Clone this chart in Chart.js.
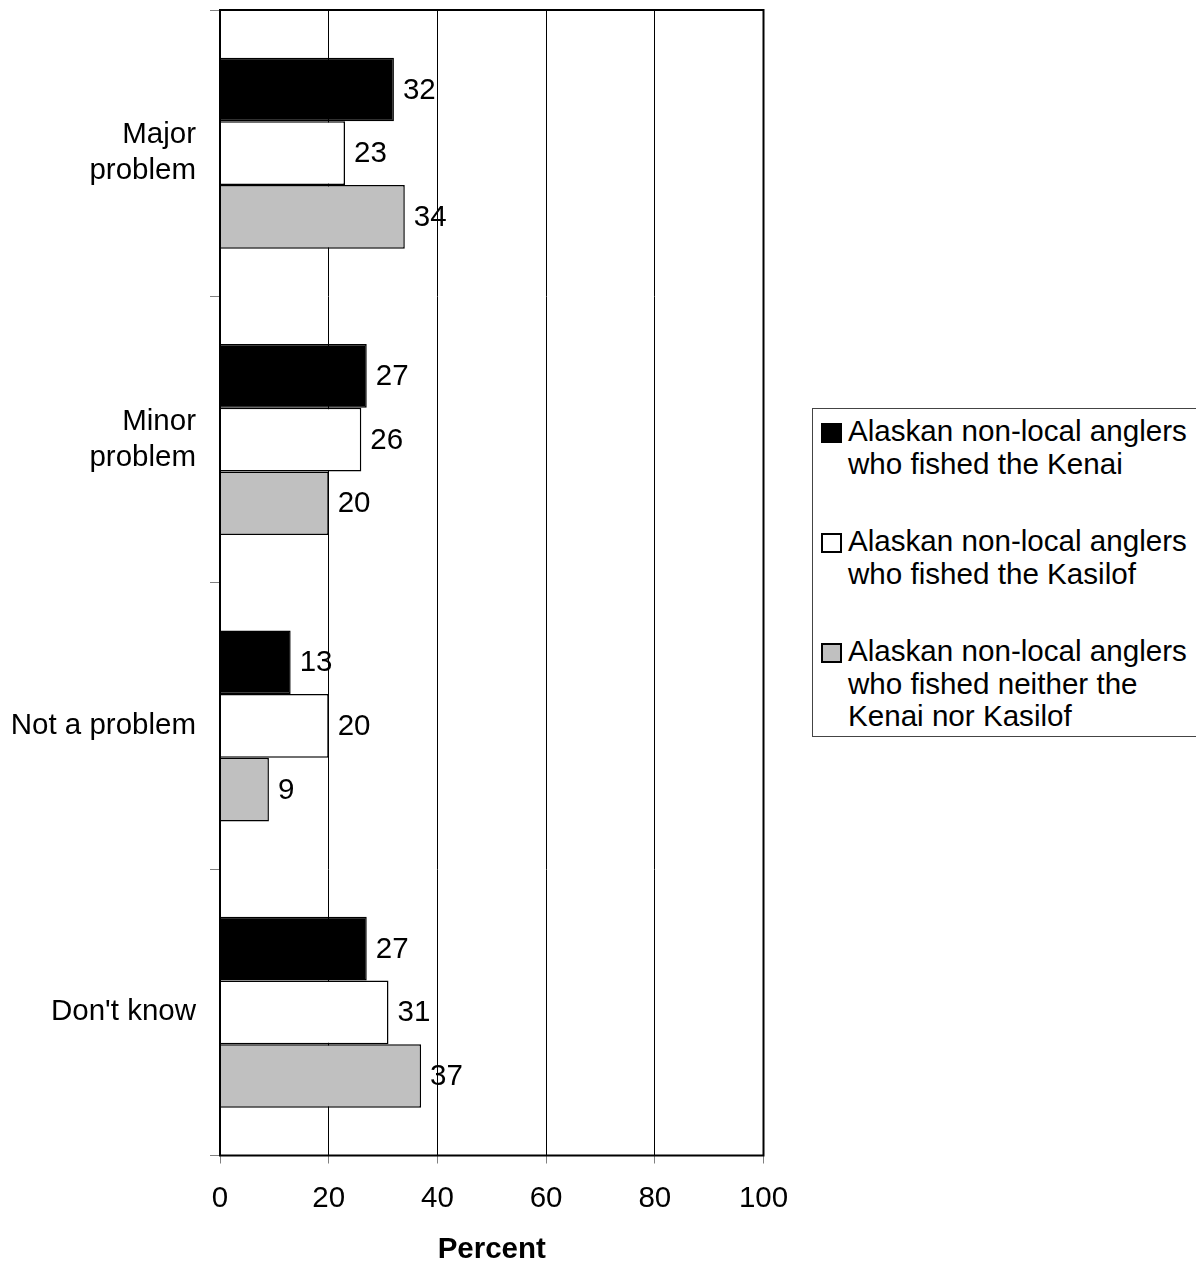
<!DOCTYPE html>
<html>
<head>
<meta charset="utf-8">
<title>Problem rating by angler group</title>
<script src="https://cdn.jsdelivr.net/npm/chart.js@4.4.0/dist/chart.umd.min.js"></script>
<style>
  html, body { margin: 0; padding: 0; background: #fff; overflow: hidden; }
  #wrap { position: relative; width: 1196px; height: 1265px; }
  #legend {
    position: absolute; left: 812px; top: 408px; width: 420px;
    border: 1px solid #444; background: #fff;
    padding: 6px 0 3px 0;
    font-family: "Liberation Sans", Arial, sans-serif; font-size: 29.6px; line-height: 32.5px; color: #000;
  }
  .item { position: relative; padding-left: 35px; margin-bottom: 45px; }
  .item:last-child { margin-bottom: 0; }
  .swatch { position: absolute; left: 8px; top: 8px; width: 17px; height: 16px; border: 2px solid #000; }
</style>
</head>
<body>
<div id="wrap">
  <canvas id="my-chart" width="1196" height="1265"></canvas>
  <div id="legend"></div>
</div>
<script>
'use strict';

//***********data***********
let categories = [['Major', 'problem'], ['Minor', 'problem'], 'Not a problem', 'Don\'t know'];
let kenai = [32, 27, 13, 27];
let kasilof = [23, 26, 20, 31];
let neither = [34, 20, 9, 37];
let seriesNames = [
  ['Alaskan non-local anglers', 'who fished the Kenai'],
  ['Alaskan non-local anglers', 'who fished the Kasilof'],
  ['Alaskan non-local anglers', 'who fished neither the', 'Kenai nor Kasilof']
];
let seriesColors = ['#000000', '#ffffff', '#c0c0c0'];
let xTicks = [0, 20, 40, 60, 80, 100];

let FONT = '"Liberation Sans", Arial, sans-serif';
let FONT_SIZE = 29.5;
let customerChart = document.getElementById('my-chart');

// draws the value at the end of each bar
let valueLabels = {
  id: 'valueLabels',
  afterDatasetsDraw(chart) {
    let ctx = chart.ctx;
    ctx.save();
    ctx.font = FONT_SIZE + 'px ' + FONT;
    ctx.fillStyle = '#000';
    ctx.textAlign = 'left';
    ctx.textBaseline = 'middle';
    chart.data.datasets.forEach((ds, i) => {
      chart.getDatasetMeta(i).data.forEach((bar, j) => {
        ctx.fillText(String(ds.data[j]), bar.x + 9, bar.y + 1);
      });
    });
    ctx.restore();
  }
};

// black frame round the plot area
let plotFrame = {
  id: 'plotFrame',
  afterDraw(chart) {
    let a = chart.chartArea;
    let ctx = chart.ctx;
    ctx.save();
    ctx.strokeStyle = '#000';
    ctx.lineWidth = 2;
    ctx.strokeRect(a.left, a.top, a.right - a.left, a.bottom - a.top);
    ctx.restore();
  }
};

function renderChart() {
  let names = [kenai, kasilof, neither];
  let datasets = names.map((vals, i) => ({
    label: seriesNames[i].join(' '),
    data: vals,
    backgroundColor: seriesColors[i],
    borderColor: '#000',
    borderWidth: 1.5,
    categoryPercentage: 0.667,
    barPercentage: 1.0
  }));

  let myChartObj = {
    type: 'bar',
    data: { labels: categories, datasets: datasets },
    plugins: [valueLabels, plotFrame],
    options: {
      indexAxis: 'y',
      responsive: false,
      animation: false,
      layout: { padding: { top: 10, right: 432.5, bottom: 0, left: 0 } },
      plugins: { legend: { display: false }, tooltip: { enabled: false } },
      scales: {
        x: {
          min: 0,
          max: 100,
          afterBuildTicks(scale) { scale.ticks = xTicks.map(v => ({ value: v })); },
          afterFit(scale) { scale.height = 109.5; },
          grid: { color: '#000', lineWidth: 1, tickColor: '#808080', tickLength: 8 },
          border: { display: false },
          ticks: { color: '#000', padding: 18, font: { family: FONT, size: FONT_SIZE } },
          title: {
            display: true,
            text: 'Percent',
            color: '#000',
            padding: { top: 0, bottom: 0 },
            font: { family: FONT, size: FONT_SIZE, weight: 'bold', lineHeight: 1 }
          }
        },
        y: {
          afterFit(scale) {
            scale.width = 220;
            scale.paddingTop = 0;
            scale.paddingBottom = 0;
          },
          grid: { drawOnChartArea: false, offset: true, tickColor: '#808080', tickLength: 10 },
          border: { display: false },
          ticks: { color: '#000', padding: 14, font: { family: FONT, size: FONT_SIZE, lineHeight: '36px' } }
        }
      }
    }
  };
  new Chart(customerChart, myChartObj);
}

// html legend with the wrapped series names
function renderLegend() {
  let box = document.getElementById('legend');
  seriesNames.forEach((lines, i) => {
    let item = document.createElement('div');
    item.className = 'item';
    let sw = document.createElement('span');
    sw.className = 'swatch';
    sw.style.background = seriesColors[i];
    item.appendChild(sw);
    lines.forEach(t => {
      let line = document.createElement('div');
      line.textContent = t;
      item.appendChild(line);
    });
    box.appendChild(item);
  });
}

renderChart();
renderLegend();
</script>
</body>
</html>
